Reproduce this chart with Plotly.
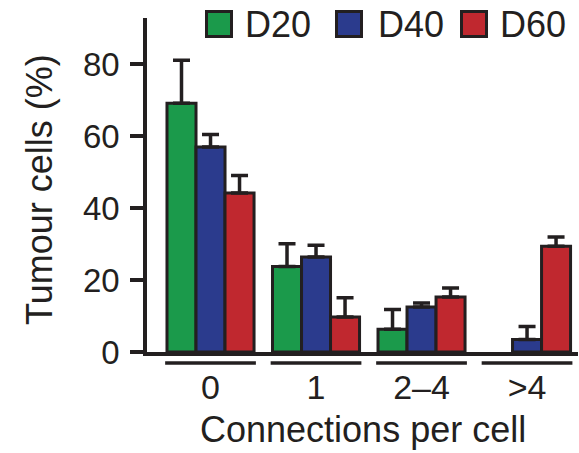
import plotly.graph_objects as go

categories = ["0", "1", "2–4", ">4"]
series_names = ["D20", "D40", "D60"]
d20_values = [69.2, 23.8, 6.3, 0.0]
d20_upper = [81.1, 30.1, 11.8, 0.0]
d40_values = [57.0, 26.4, 12.5, 3.5]
d40_upper = [60.5, 29.7, 13.6, 7.1]
d60_values = [44.2, 9.7, 15.3, 29.4]
d60_upper = [49.1, 15.1, 17.8, 32.0]
y_ticks = [0, 20, 40, 60, 80]
x_title = "Connections per cell"
y_title = "Tumour cells (%)"

colors = ["#1b9a4b", "#2b3b8d", "#c0282f"]
ink = "#231f20"
FONT = "Liberation Sans, Arial, Helvetica, sans-serif"

W, H = 579, 453
ML, MR, MT, MB = 147, 1, 18, 101
PW, PH = W - ML - MR, H - MT - MB


def px(x):
    return (x - ML) / PW


def py(y):
    return (H - MB - y) / PH


fig = go.Figure()
all_vals = [d20_values, d40_values, d60_values]
all_up = [d20_upper, d40_upper, d60_upper]
for name, vals, ups, col in zip(series_names, all_vals, all_up, colors):
    # a zero-height bar (and its zero error) is not drawn, as in the source figure
    shown = [v if v > 0 else None for v in vals]
    fig.add_trace(go.Bar(
        name=name,
        x=list(range(len(categories))),
        y=shown,
        marker=dict(color=col, line=dict(color=ink, width=3)),
        error_y=dict(type="data", symmetric=False,
                     array=[(u - v) for u, v in zip(ups, vals)],
                     arrayminus=[0] * len(vals),
                     color=ink, thickness=3.5, width=8.5),
        showlegend=False,
    ))

shapes = []
# category underline brackets
for i in range(len(categories)):
    shapes.append(dict(type="line", xref="x", yref="paper",
                       x0=i - 0.43, x1=i + 0.43, y0=py(363), y1=py(363),
                       line=dict(color=ink, width=3.5)))

annotations = []
# custom legend
sq_left = [205, 335, 460]
txt_left = [245, 378, 500]
for name, col, sl, tl in zip(series_names, colors, sq_left, txt_left):
    shapes.append(dict(type="rect", xref="paper", yref="paper",
                       x0=px(sl + 1.5), x1=px(sl + 26.5), y0=py(36.5), y1=py(11.5),
                       fillcolor=col, line=dict(color=ink, width=3)))
    annotations.append(dict(text=name, xref="paper", yref="paper",
                            x=px(tl - 2), y=py(24), xanchor="left", yanchor="middle",
                            showarrow=False, font=dict(size=36, color=ink, family=FONT)))

annotations.append(dict(text=y_title, xref="paper", yref="paper",
                        x=px(39), y=py(190), xanchor="center", yanchor="middle",
                        textangle=-90, showarrow=False,
                        font=dict(size=36, color=ink, family=FONT)))
annotations.append(dict(text=x_title, xref="paper", yref="paper",
                        x=px(362.5), y=py(429), xanchor="center", yanchor="middle",
                        showarrow=False,
                        font=dict(size=36, color=ink, family=FONT)))

fig.update_layout(
    width=W, height=H,
    margin=dict(l=ML, r=MR, t=MT, b=MB, pad=0),
    paper_bgcolor="white", plot_bgcolor="white",
    barmode="group", bargap=0.175, bargroupgap=0,
    shapes=shapes, annotations=annotations,
    font=dict(family=FONT, color=ink, size=33),
    xaxis=dict(range=[-0.602, 3.483], tickmode="array",
               tickvals=list(range(len(categories))), ticktext=categories,
               showgrid=False, zeroline=False, showline=True,
               linecolor=ink, linewidth=4, ticks="", ticklabelstandoff=2,
               tickfont=dict(size=34, color=ink, family=FONT)),
    yaxis=dict(range=[0, PH / 3.596], tickmode="array", tickvals=y_ticks,
               showgrid=False, zeroline=False, showline=True,
               linecolor=ink, linewidth=3.5, ticks="outside", ticklen=13,
               tickwidth=3.5, tickcolor=ink, ticklabelstandoff=4,
               tickfont=dict(size=33, color=ink, family=FONT)),
)

fig.write_html("out.html", config={"displayModeBar": False},
               post_script="document.body.style.margin='0';document.body.style.overflow='hidden';")
